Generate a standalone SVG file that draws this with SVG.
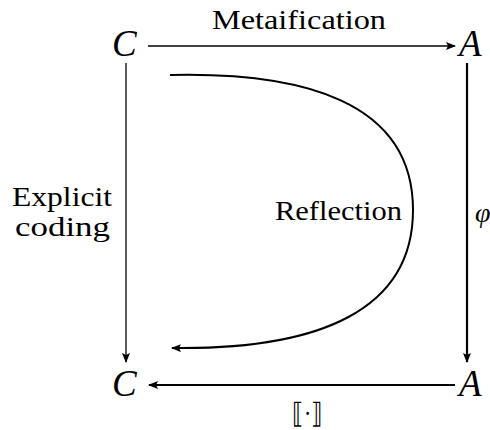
<svg xmlns="http://www.w3.org/2000/svg" width="490" height="430" viewBox="0 0 490 430">
<style>
.lbl{font-family:"Liberation Serif","DejaVu Serif",serif;font-size:28px;fill:#000}
.obj{font-family:"Liberation Serif","DejaVu Serif",serif;font-size:37px;font-style:italic;fill:#000}
.ln{fill:none;stroke:#000}
</style>
<defs>
<marker id="ah" viewBox="0 0 10 8" refX="9" refY="4" markerWidth="10" markerHeight="8" markerUnits="userSpaceOnUse" orient="auto">
<path d="M0,0 L10,4 L0,8 L2,4 Z" fill="#000"/>
</marker>
</defs>
<g id="C_top"><text class="obj" x="112" y="56">C</text></g>
<g id="A_top"><text class="obj" x="459" y="56">A</text></g>
<g id="C_bot"><text class="obj" x="112" y="396">C</text></g>
<g id="A_bot"><text class="obj" x="459" y="396">A</text></g>
<g id="connectors">
<line class="ln" x1="148" y1="46" x2="455" y2="46" stroke-width="1.3" marker-end="url(#ah)"/>
<line class="ln" x1="126" y1="63" x2="126" y2="362" stroke-width="1.3" marker-end="url(#ah)"/>
<line class="ln" x1="467" y1="63" x2="467" y2="362" stroke-width="2.2" marker-end="url(#ah)"/>
<line class="ln" x1="455" y1="385" x2="149" y2="385" stroke-width="2.2" marker-end="url(#ah)"/>
<path class="ln" d="M170,75 C300,72 413,100 413,210 C413,310 320,350 172,348" stroke-width="2" marker-end="url(#ah)"/>
</g>
<g id="labels">
<text class="lbl" x="212" y="29" textLength="174" lengthAdjust="spacingAndGlyphs">Metaification</text>
<text class="lbl" x="12" y="206" textLength="100" lengthAdjust="spacingAndGlyphs">Explicit</text>
<text class="lbl" x="15" y="236" textLength="95" lengthAdjust="spacingAndGlyphs">coding</text>
<text class="lbl" x="275" y="220" textLength="127" lengthAdjust="spacingAndGlyphs">Reflection</text>
<text class="lbl" x="475" y="222" font-style="italic">φ</text>
<text class="lbl" x="292" y="423" font-size="32" textLength="31" lengthAdjust="spacingAndGlyphs">⟦·⟧</text>
</g>
</svg>
